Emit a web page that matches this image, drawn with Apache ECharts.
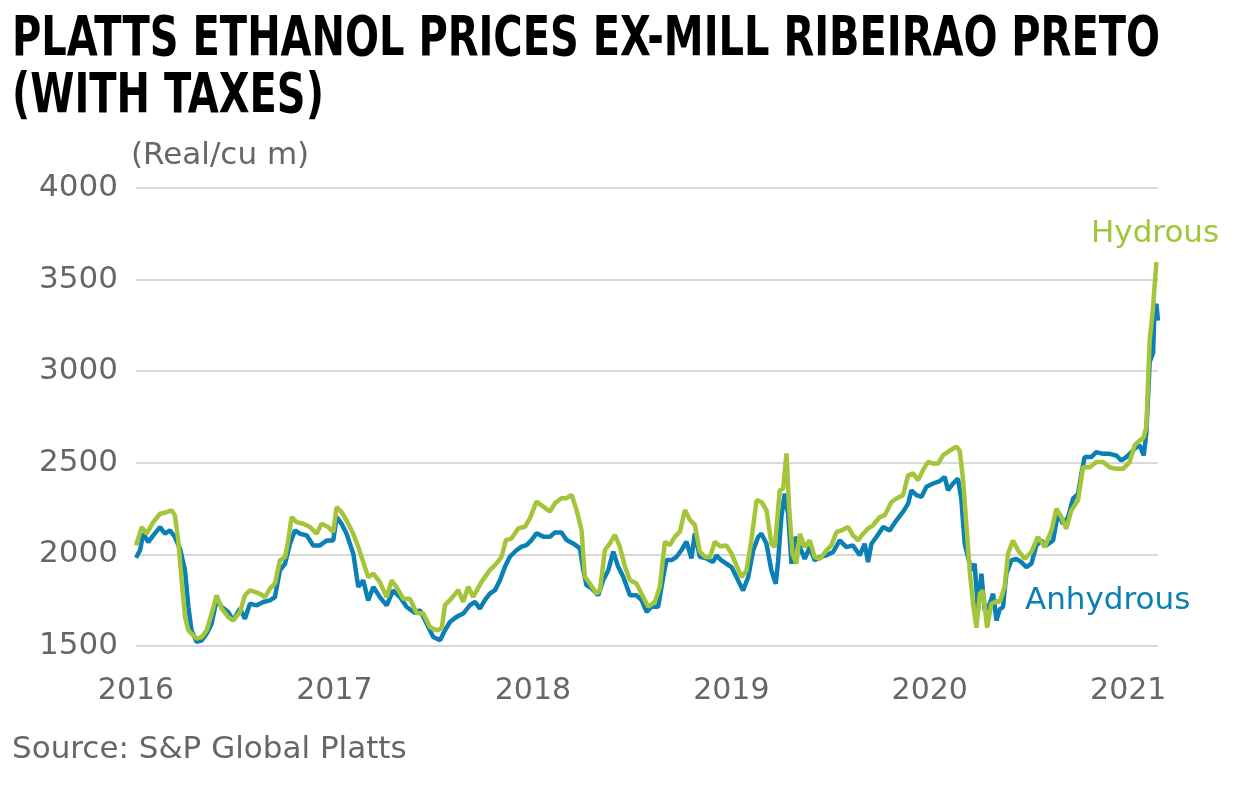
<!DOCTYPE html>
<html>
<head>
<meta charset="utf-8">
<title>Platts ethanol prices ex-mill Ribeirao Preto</title>
<script src="https://cdn.jsdelivr.net/npm/echarts@6/dist/echarts.min.js"></script>
<style>
  html, body { margin: 0; padding: 0; background: #fff; }
  #chart { width: 1246px; height: 785px; }
</style>
</head>
<body>
<div id="chart"></div>
<script>
// values (x = decimal year, y = Real/cu m)
var anhydrousYears = [
  2016.000, 2016.020, 2016.037, 2016.062, 2016.087, 2016.121, 2016.146, 2016.171, 2016.196, 2016.222,
  2016.247, 2016.264, 2016.280, 2016.306, 2016.331, 2016.356, 2016.381, 2016.406, 2016.432, 2016.465,
  2016.490, 2016.524, 2016.549, 2016.574, 2016.608, 2016.641, 2016.675, 2016.700, 2016.725, 2016.751,
  2016.776, 2016.801, 2016.826, 2016.860, 2016.893, 2016.927, 2016.961, 2016.994, 2017.011, 2017.036,
  2017.061, 2017.095, 2017.120, 2017.145, 2017.170, 2017.196, 2017.229, 2017.263, 2017.296, 2017.330,
  2017.364, 2017.406, 2017.431, 2017.448, 2017.473, 2017.498, 2017.532, 2017.557, 2017.582, 2017.615,
  2017.649, 2017.683, 2017.708, 2017.733, 2017.758, 2017.783, 2017.809, 2017.834, 2017.859, 2017.884,
  2017.918, 2017.943, 2017.968, 2017.993, 2018.018, 2018.052, 2018.086, 2018.111, 2018.144, 2018.170,
  2018.203, 2018.237, 2018.254, 2018.270, 2018.296, 2018.329, 2018.354, 2018.380, 2018.405, 2018.430,
  2018.455, 2018.489, 2018.522, 2018.548, 2018.573, 2018.598, 2018.631, 2018.657, 2018.673, 2018.699,
  2018.724, 2018.749, 2018.774, 2018.799, 2018.816, 2018.841, 2018.875, 2018.908, 2018.925, 2018.950,
  2018.975, 2019.001, 2019.026, 2019.059, 2019.085, 2019.110, 2019.135, 2019.152, 2019.177, 2019.202,
  2019.224, 2019.236, 2019.252, 2019.269, 2019.286, 2019.303, 2019.320, 2019.345, 2019.370, 2019.395,
  2019.420, 2019.446, 2019.479, 2019.513, 2019.546, 2019.580, 2019.613, 2019.647, 2019.672, 2019.689,
  2019.706, 2019.731, 2019.765, 2019.798, 2019.832, 2019.865, 2019.891, 2019.907, 2019.933, 2019.958,
  2019.983, 2020.017, 2020.050, 2020.075, 2020.092, 2020.117, 2020.142, 2020.159, 2020.176, 2020.193,
  2020.210, 2020.226, 2020.243, 2020.260, 2020.277, 2020.302, 2020.319, 2020.336, 2020.352, 2020.369,
  2020.386, 2020.411, 2020.436, 2020.461, 2020.487, 2020.512, 2020.537, 2020.562, 2020.587, 2020.621,
  2020.646, 2020.671, 2020.697, 2020.722, 2020.747, 2020.764, 2020.780, 2020.814, 2020.839, 2020.873,
  2020.906, 2020.940, 2020.965, 2020.990, 2021.016, 2021.041, 2021.058, 2021.078, 2021.091, 2021.108,
  2021.125, 2021.133, 2021.142, 2021.150
];
var anhydrousValues = [
  1982, 2022, 2113, 2067, 2104, 2149, 2113, 2131, 2095, 2031,
  1913, 1713, 1585, 1522, 1531, 1567, 1622, 1749, 1713, 1685,
  1640, 1704, 1649, 1731, 1722, 1740, 1749, 1767, 1913, 1949,
  2058, 2131, 2113, 2104, 2049, 2049, 2076, 2076, 2204, 2167,
  2113, 2004, 1822, 1858, 1749, 1822, 1767, 1722, 1804, 1767,
  1713, 1680, 1695, 1659, 1604, 1549, 1531, 1586, 1631, 1659,
  1677, 1723, 1741, 1704, 1750, 1786, 1805, 1859, 1932, 1987,
  2024, 2042, 2051, 2078, 2115, 2097, 2097, 2119, 2119, 2078,
  2060, 2033, 1914, 1832, 1814, 1777, 1859, 1914, 2015, 1932,
  1878, 1777, 1777, 1750, 1686, 1714, 1714, 1878, 1969, 1969,
  1987, 2024, 2069, 1978, 2115, 1987, 1978, 1958, 1995, 1967,
  1949, 1931, 1876, 1803, 1876, 2022, 2095, 2113, 2058, 1912,
  1839, 1967, 2204, 2332, 2223, 1949, 2095, 2040, 1976, 2040,
  1967, 1985, 1995, 2013, 2077, 2040, 2049, 1995, 2058, 1958,
  2058, 2095, 2150, 2131, 2186, 2232, 2277, 2350, 2323, 2314,
  2369, 2387, 2400, 2423, 2350, 2387, 2414, 2300, 2058, 1985,
  1912, 1949, 1693, 1894, 1693, 1730, 1785, 1639, 1700, 1713,
  1895, 1967, 1976, 1958, 1931, 1949, 2049, 2076, 2049, 2076,
  2222, 2167, 2204, 2304, 2331, 2440, 2531, 2531, 2558, 2549,
  2549, 2540, 2513, 2531, 2558, 2585, 2595, 2540, 2658, 3050,
  3100, 3349, 3367, 3276
];

var hydrousYears = [
  2016.000, 2016.029, 2016.054, 2016.087, 2016.121, 2016.154, 2016.180, 2016.196, 2016.213, 2016.230,
  2016.247, 2016.264, 2016.280, 2016.306, 2016.331, 2016.356, 2016.381, 2016.406, 2016.432, 2016.465,
  2016.490, 2016.524, 2016.549, 2016.574, 2016.599, 2016.625, 2016.650, 2016.675, 2016.700, 2016.725,
  2016.751, 2016.767, 2016.784, 2016.809, 2016.843, 2016.877, 2016.910, 2016.935, 2016.969, 2016.994,
  2017.011, 2017.036, 2017.061, 2017.095, 2017.120, 2017.145, 2017.170, 2017.196, 2017.229, 2017.263,
  2017.288, 2017.313, 2017.347, 2017.380, 2017.414, 2017.448, 2017.481, 2017.515, 2017.540, 2017.557,
  2017.582, 2017.624, 2017.649, 2017.674, 2017.699, 2017.741, 2017.783, 2017.817, 2017.842, 2017.864,
  2017.893, 2017.926, 2017.960, 2017.985, 2018.018, 2018.052, 2018.086, 2018.111, 2018.144, 2018.170,
  2018.195, 2018.220, 2018.245, 2018.262, 2018.287, 2018.321, 2018.338, 2018.363, 2018.388, 2018.413,
  2018.438, 2018.464, 2018.489, 2018.522, 2018.556, 2018.581, 2018.615, 2018.640, 2018.665, 2018.690,
  2018.716, 2018.741, 2018.766, 2018.791, 2018.816, 2018.841, 2018.867, 2018.892, 2018.917, 2018.942,
  2018.975, 2019.001, 2019.026, 2019.051, 2019.076, 2019.101, 2019.127, 2019.152, 2019.177, 2019.202,
  2019.219, 2019.244, 2019.261, 2019.278, 2019.291, 2019.308, 2019.328, 2019.345, 2019.370, 2019.395,
  2019.420, 2019.446, 2019.479, 2019.504, 2019.530, 2019.555, 2019.588, 2019.613, 2019.639, 2019.664,
  2019.689, 2019.714, 2019.748, 2019.773, 2019.807, 2019.832, 2019.865, 2019.891, 2019.916, 2019.941,
  2019.966, 2019.991, 2020.017, 2020.042, 2020.067, 2020.092, 2020.117, 2020.134, 2020.151, 2020.168,
  2020.184, 2020.201, 2020.218, 2020.235, 2020.252, 2020.268, 2020.289, 2020.310, 2020.336, 2020.352,
  2020.377, 2020.394, 2020.419, 2020.445, 2020.478, 2020.512, 2020.545, 2020.579, 2020.613, 2020.638,
  2020.663, 2020.688, 2020.713, 2020.747, 2020.772, 2020.806, 2020.839, 2020.873, 2020.906, 2020.940,
  2020.974, 2021.007, 2021.032, 2021.058, 2021.078, 2021.091, 2021.108, 2021.125, 2021.142
];
var hydrousValues = [
  2049, 2149, 2113, 2176, 2222, 2231, 2240, 2213, 2076, 1858,
  1658, 1585, 1567, 1540, 1549, 1585, 1676, 1776, 1704, 1658,
  1640, 1685, 1776, 1804, 1795, 1785, 1767, 1813, 1840, 1967,
  1985, 2076, 2204, 2176, 2167, 2149, 2113, 2167, 2149, 2122,
  2258, 2231, 2185, 2113, 2040, 1958, 1876, 1895, 1849, 1767,
  1858, 1822, 1758, 1758, 1680, 1677, 1604, 1586, 1595, 1723,
  1750, 1805, 1741, 1823, 1768, 1850, 1914, 1951, 1987, 2078,
  2088, 2142, 2151, 2197, 2288, 2261, 2234, 2279, 2307, 2307,
  2325, 2243, 2133, 1878, 1841, 1786, 1805, 2024, 2060, 2106,
  2042, 1932, 1859, 1841, 1768, 1714, 1741, 1823, 2069, 2051,
  2097, 2124, 2243, 2188, 2161, 2015, 1987, 1984, 2069, 2045,
  2049, 2004, 1940, 1876, 1912, 2077, 2296, 2286, 2241, 2058,
  2040, 2350, 2359, 2551, 2259, 2004, 1949, 2113, 2040, 2077,
  1985, 1976, 2022, 2049, 2122, 2131, 2150, 2104, 2077, 2113,
  2141, 2159, 2204, 2214, 2286, 2305, 2323, 2432, 2442, 2405,
  2460, 2505, 2496, 2496, 2542, 2560, 2578, 2588, 2565, 2405,
  2168, 1912, 1730, 1600, 1785, 1803, 1600, 1730, 1745, 1740,
  1822, 2004, 2076, 2022, 1976, 2013, 2095, 2040, 2131, 2249,
  2204, 2140, 2240, 2295, 2476, 2476, 2504, 2504, 2476, 2467,
  2467, 2504, 2595, 2622, 2640, 2695, 3167, 3349, 3595
];

var yTicks = [1500, 2000, 2500, 3000, 3500, 4000];
var xYears = [2016, 2017, 2018, 2019, 2020, 2021];

function pairs(xs, ys) {
  return xs.map(function (x, i) { return [x, ys[i]]; });
}

var blue = '#0a80b4';
var green = '#a4c43a';
var grey = '#666666';
var labelFont = '"DejaVu Sans", sans-serif';

// title font is condensed in the original: squeeze it to the same width
var titleLines = ['PLATTS ETHANOL PRICES EX-MILL RIBEIRAO PRETO', '(WITH TAXES)'];
var titleFont = 'bold 56px "DejaVu Sans Condensed", "DejaVu Sans", sans-serif';
var ctx = document.createElement('canvas').getContext('2d');
ctx.font = titleFont;
var titleScale = 1148 / ctx.measureText(titleLines[0]).width;

var chart = echarts.init(document.getElementById('chart'));
var option = {
  backgroundColor: '#ffffff',
  animation: false,
  grid: {
    left: 136,
    right: 88,
    top: 188,
    bottom: 139,
    containLabel: false
  },
  xAxis: {
    type: 'value',
    min: xYears[0],
    max: 2021.15,
    interval: 1,
    axisLine: { show: false },
    axisTick: { show: false },
    splitLine: { show: false },
    axisLabel: {
      margin: 30,
      color: grey,
      fontSize: 30,
      fontFamily: labelFont,
      formatter: function (v) {
        return xYears.indexOf(Math.round(v * 1000) / 1000) >= 0 ? String(v) : '';
      }
    }
  },
  yAxis: {
    type: 'value',
    min: yTicks[0],
    max: yTicks[yTicks.length - 1],
    interval: 500,
    axisLine: { show: false },
    axisTick: { show: false },
    splitLine: { lineStyle: { color: '#d9d9d9', width: 2 } },
    axisLabel: {
      margin: 18,
      color: grey,
      fontSize: 31,
      fontFamily: labelFont,
      formatter: function (v) { return String(v); }
    }
  },
  graphic: [
    {
      type: 'text', x: 12, y: 12, scaleX: titleScale,
      style: { text: titleLines[0], fill: '#000', font: titleFont, verticalAlign: 'top' }
    },
    {
      type: 'text', x: 12, y: 69, scaleX: titleScale,
      style: { text: titleLines[1], fill: '#000', font: titleFont, verticalAlign: 'top' }
    },
    {
      type: 'text', left: 131, top: 140,
      style: { text: '(Real/cu m)', fill: grey, font: '31px "DejaVu Sans", sans-serif' }
    },
    {
      type: 'text', left: 12, top: 734,
      style: { text: 'Source: S&P Global Platts', fill: grey, font: '31px "DejaVu Sans", sans-serif' }
    },
    {
      type: 'text', left: 1091, top: 218,
      style: { text: 'Hydrous', fill: green, font: '31px "DejaVu Sans", sans-serif' }
    },
    {
      type: 'text', left: 1025, top: 585,
      style: { text: 'Anhydrous', fill: blue, font: '31px "DejaVu Sans", sans-serif' }
    }
  ],
  series: [
    {
      name: 'Anhydrous',
      type: 'line',
      showSymbol: false,
      data: pairs(anhydrousYears, anhydrousValues),
      lineStyle: { color: blue, width: 4.5 },
      itemStyle: { color: blue }
    },
    {
      name: 'Hydrous',
      type: 'line',
      showSymbol: false,
      data: pairs(hydrousYears, hydrousValues),
      lineStyle: { color: green, width: 4.5 },
      itemStyle: { color: green }
    }
  ]
};
chart.setOption(option);
</script>
</body>
</html>
